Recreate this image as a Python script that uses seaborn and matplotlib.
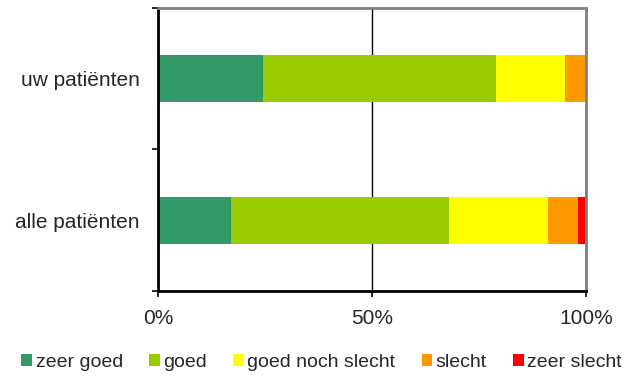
import pandas as pd
import numpy as np
import seaborn as sns
import matplotlib.pyplot as plt
from matplotlib.patches import Patch
from matplotlib.ticker import FixedLocator, PercentFormatter

# Data (percentages)
groups = ['uw patiënten', 'alle patiënten']
answers = ['zeer goed', 'goed', 'goed noch slecht', 'slecht', 'zeer slecht']
colors = ['#339966', '#99CC00', '#FFFF00', '#FF9900', '#FF0000']
uw_values = [24.5, 54.4, 16.2, 4.9, 0.0]
alle_values = [17.1, 51.0, 22.9, 7.1, 1.9]

df = pd.DataFrame({'groep': groups})
for i, ans in enumerate(answers):
    df[ans] = [uw_values[i], alle_values[i]]
# cumulative sums for stacked look
cum = df[answers].cumsum(axis=1)
cum['groep'] = df['groep']

sns.set_style("white")
plt.rcParams['font.family'] = ['Liberation Sans', 'DejaVu Sans']

fig = plt.figure(figsize=(6.37, 3.76), dpi=100)
ax = fig.add_axes([0.248, 0.226, 0.672, 0.753])

# draw from the total down so each shorter bar lies on top
for ans, col in reversed(list(zip(answers, colors))):
    sns.barplot(data=cum, x=ans, y='groep', order=groups, color=col,
                width=0.33, edgecolor='none', saturation=1, ax=ax, zorder=2)

ax.set_xlim(0, 100)
ax.set_ylim(1.5, -0.5)
ax.set_xlabel('')
ax.set_ylabel('')
ax.xaxis.set_major_locator(FixedLocator([0, 50, 100]))
ax.xaxis.set_major_formatter(PercentFormatter(decimals=0))
ax.set_axisbelow(True)
ax.grid(axis='x', color='black', linewidth=1)
ax.grid(axis='y', visible=False)

ax.yaxis.set_minor_locator(FixedLocator([-0.5, 0.5, 1.5]))
ax.tick_params(axis='y', which='major', length=0, pad=13, labelsize=15)
ax.tick_params(axis='y', which='minor', left=True, length=4.5, width=1.2, color='black')
ax.tick_params(axis='x', which='major', bottom=True, length=4, width=1.2, color='black',
               pad=9, labelsize=15)

for side in ['top', 'right']:
    ax.spines[side].set_color('#808080')
    ax.spines[side].set_linewidth(2)
for side in ['left', 'bottom']:
    ax.spines[side].set_color('black')
    ax.spines[side].set_linewidth(2)

handles = [Patch(facecolor=c, edgecolor='none', label=a) for a, c in zip(answers, colors)]
fig.legend(handles=handles, loc='center', bbox_to_anchor=(0.505, 0.037), ncol=5,
           frameon=False, fontsize=14, handlelength=0.55, handleheight=0.55,
           handletextpad=0.18, columnspacing=1.35, borderpad=0.2)

fig.savefig('out.png', dpi=100)
